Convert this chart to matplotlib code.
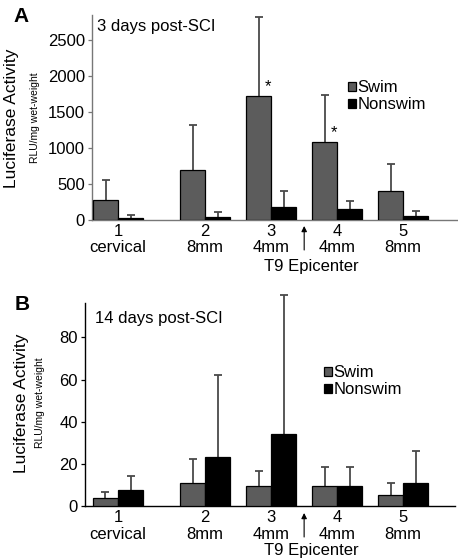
import matplotlib
matplotlib.use("Agg")
import matplotlib.pyplot as plt
import numpy as np

plt.rcParams['font.family'] = ['Liberation Sans', 'DejaVu Sans']

categories = ["1\ncervical", "2\n8mm", "3\n4mm", "4\n4mm", "5\n8mm"]
series = ["Swim", "Nonswim"]

# Panel A: 3 days post-SCI
swim_a = [270, 690, 1720, 1085, 405]
swim_a_err = [280, 620, 1095, 650, 375]
non_a = [28, 42, 176, 150, 56]
non_a_err = [37, 58, 219, 115, 69]
sig_a = [False, False, True, True, False]

# Panel B: 14 days post-SCI
swim_b = [3.8, 10.9, 9.8, 9.6, 5.5]
swim_b_err = [3.1, 11.4, 7.1, 8.9, 5.7]
non_b = [7.9, 23.4, 34.2, 9.8, 11.1]
non_b_err = [6.3, 38.7, 65.7, 8.6, 15.3]

yticks_a = [0, 500, 1000, 1500, 2000, 2500]
yticks_b = [0, 20, 40, 60, 80]

W, H = 458, 560
fig = plt.figure(figsize=(W / 100, H / 100), dpi=100)

xpos = np.array([0, 1.32, 2.32, 3.32, 4.32])
bw = 0.379
swim_color = '#5c5c5c'


def px(x, y):
    return x / W, 1 - y / H


def panel(rect, swim, swim_err, non, non_err, ylim, yticks, xlim, spine_color,
          title, title_xy, letter, letter_xy, leg_anchor, ylab_x, rlu_x, ylab_y,
          arrow_y, epi_y, sig=None):
    ax = fig.add_axes(rect)
    ax.bar(xpos - bw / 2, swim, bw, color=swim_color, edgecolor='black', linewidth=0.9, zorder=3, label=series[0])
    ax.bar(xpos + bw / 2, non, bw, color='black', edgecolor='black', linewidth=0.9, zorder=3, label=series[1])
    for off, vals, errs in [(-bw / 2, swim, swim_err), (bw / 2, non, non_err)]:
        vals = np.array(vals)
        ax.errorbar(xpos + off, vals, yerr=[vals * 0.99, errs], fmt='none', ecolor='#4a4a4a',
                    elinewidth=1.3, capsize=3, capthick=1.3, zorder=2, clip_on=False)
    if sig is not None:
        for i, s in enumerate(sig):
            if s:
                ax.annotate('*', (xpos[i] - bw / 2, swim[i]), xytext=(7, 1), textcoords='offset points',
                            ha='center', va='bottom', fontsize=12)
    ax.set_xlim(*xlim)
    ax.set_ylim(*ylim)
    ax.set_yticks(yticks)
    ax.set_xticks(xpos)
    ax.set_xticklabels(categories, fontsize=12, linespacing=1.12)
    ax.tick_params(axis='x', length=0, pad=3)
    ax.tick_params(axis='y', length=3, width=0.9, labelsize=12, pad=2, color=spine_color)
    for s in ['top', 'right']:
        ax.spines[s].set_visible(False)
    for s in ['left', 'bottom']:
        ax.spines[s].set_color(spine_color)
        ax.spines[s].set_linewidth(1.0)
    ax.legend(loc='center left', bbox_to_anchor=leg_anchor, frameon=False, fontsize=12,
              handlelength=0.45, handleheight=0.45, handletextpad=0.12, labelspacing=0.12,
              borderaxespad=0, borderpad=0)
    fig.text(*px(*title_xy), title, fontsize=12, ha='left', va='center')
    fig.text(*px(*letter_xy), letter, fontsize=15, fontweight='bold', ha='left', va='center')
    fig.text(*px(ylab_x, ylab_y), 'Luciferase Activity', fontsize=12.5, rotation=90, ha='center', va='center')
    fig.text(*px(rlu_x, ylab_y), 'RLU/mg wet-weight', fontsize=7.5, rotation=90, ha='center', va='center')
    # arrow between groups 3 and 4
    xa = (xpos[2] + xpos[3]) / 2
    ax.annotate('', xy=(xa, arrow_y[0]), xycoords=('data', 'figure pixels'),
                xytext=(xa, arrow_y[1]), textcoords=('data', 'figure pixels'),
                arrowprops=dict(arrowstyle='-|>', color='black', lw=0.8, mutation_scale=8,
                                shrinkA=0, shrinkB=0))
    fig.text(*px(311, epi_y), 'T9 Epicenter', fontsize=12, ha='center', va='center')
    return ax


# Panel A
pa = panel([92 / W, 1 - 219.7 / H, (458 - 92) / W, (219.7 - 15) / H],
           swim_a, swim_a_err, non_a, non_a_err, (0, 2843), yticks_a,
           (-0.394, 5.15), '#777777', '3 days post-SCI', (97, 26), 'A', (13, 16),
           (0.70, 0.604), 12, 35, 118, (H - 226, H - 250), 266, sig=sig_a)

# Panel B
pb = panel([85 / W, 1 - 506.3 / H, (455 - 85) / W, (506.3 - 303) / H],
           swim_b, swim_b_err, non_b, non_b_err, (0, 96.3), yticks_b,
           (-0.5, 5.106), 'black', '14 days post-SCI', (95, 318), 'B', (15, 305),
           (0.646, 0.616), 22, 40, 403, (H - 513, H - 537), 551)

fig.savefig('out.png', dpi=100)
